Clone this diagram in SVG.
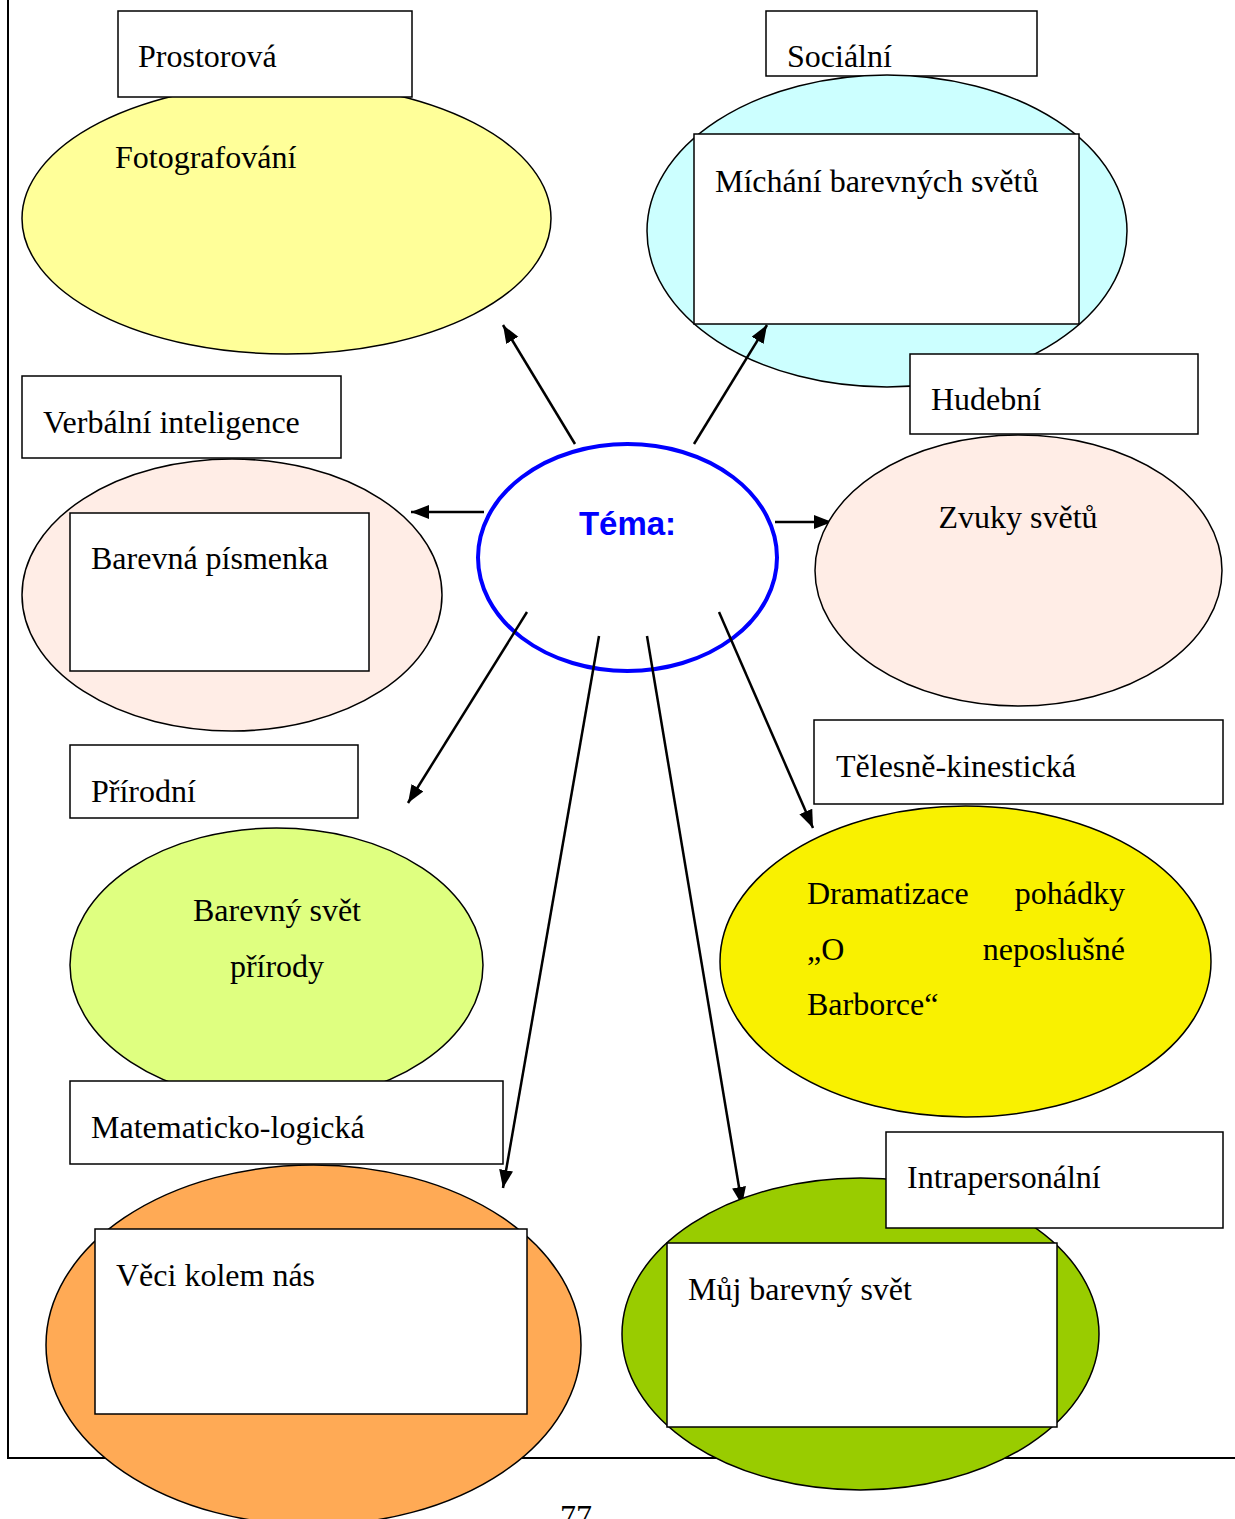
<svg xmlns="http://www.w3.org/2000/svg" width="1235" height="1519" viewBox="0 0 1235 1519">
<defs>
<style>
.box{fill:#fff;stroke:#000;stroke-width:1.5}
.ell{stroke:#000;stroke-width:1.5}
.t{font-family:"Liberation Serif","Times New Roman",serif;font-size:32px;fill:#000}
.c{stroke:#000;stroke-width:2.5;fill:none;marker-end:url(#ah)}
</style>
<marker id="ah" markerUnits="userSpaceOnUse" markerWidth="20" markerHeight="16" refX="18" refY="7" orient="auto">
<path d="M0,0 L18,7 L0,14 Z" fill="#000"/>
</marker>
</defs>
<rect width="1235" height="1519" fill="#fff"/>
<g id="frame">
<path d="M8,0 V1458 H1235" fill="none" stroke="#000" stroke-width="2"/>
</g>
<g id="prostorova">
<ellipse class="ell" cx="286.5" cy="218.5" rx="264.5" ry="135.5" fill="#FFFF99"/>
<rect class="box" x="118" y="11" width="294" height="86"/>
<text class="t" x="138" y="67">Prostorová</text>
<text class="t" x="115" y="168">Fotografování</text>
</g>
<g id="socialni">
<rect class="box" x="766" y="11" width="271" height="65"/>
<text class="t" x="787" y="67">Sociální</text>
<ellipse class="ell" cx="887" cy="231" rx="240" ry="156" fill="#CCFFFF"/>
<rect class="box" x="694" y="134" width="385" height="190"/>
<text class="t" x="715" y="192">Míchání barevných světů</text>
</g>
<g id="verbalni">
<rect class="box" x="22" y="376" width="319" height="82"/>
<text class="t" x="43" y="433">Verbální inteligence</text>
<ellipse class="ell" cx="232" cy="595" rx="210" ry="136" fill="#FFEDE6"/>
<rect class="box" x="70" y="513" width="299" height="158"/>
<text class="t" x="91" y="569">Barevná písmenka</text>
</g>
<g id="tema">
<ellipse cx="627.5" cy="557.5" rx="149.5" ry="113.5" fill="#fff" stroke="#0000FF" stroke-width="4"/>
<text x="627.5" y="535" text-anchor="middle" font-family="'Liberation Sans',Arial,sans-serif" font-weight="bold" font-size="33" fill="#0000FF">Téma:</text>
</g>
<g id="prirodni">
<rect class="box" x="70" y="745" width="288" height="73"/>
<text class="t" x="91" y="802">Přírodní</text>
<ellipse class="ell" cx="276.5" cy="965" rx="206.5" ry="137" fill="#DFFF80"/>
<text class="t" x="277" y="921" text-anchor="middle">Barevný svět</text>
<text class="t" x="277" y="977" text-anchor="middle">přírody</text>
</g>
<g id="telesne">
<rect class="box" x="814" y="720" width="409" height="84"/>
<text class="t" x="836" y="777">Tělesně-kinestická</text>
<ellipse class="ell" cx="965.5" cy="961.5" rx="245.5" ry="155.5" fill="#F9F100"/>
<text class="t" x="807" y="904">Dramatizace</text>
<text class="t" x="1125" y="904" text-anchor="end">pohádky</text>
<text class="t" x="807" y="960">„O</text>
<text class="t" x="1125" y="960" text-anchor="end">neposlušné</text>
<text class="t" x="807" y="1015">Barborce“</text>
</g>
<g id="matematicko">
<rect class="box" x="70" y="1081" width="433" height="83"/>
<text class="t" x="91" y="1138">Matematicko-logická</text>
<ellipse class="ell" cx="313.5" cy="1345" rx="267.5" ry="180" fill="#FFAA55"/>
<rect class="box" x="95" y="1229" width="432" height="185"/>
<text class="t" x="116" y="1286">Věci kolem nás</text>
</g>
<g id="connectors">
<line class="c" x1="575" y1="444" x2="503" y2="325"/>
<line class="c" x1="694" y1="444" x2="767" y2="325"/>
<line class="c" x1="484" y1="512" x2="411" y2="512"/>
<line class="c" x1="775" y1="522" x2="832" y2="522"/>
<line class="c" x1="527" y1="612" x2="408" y2="803"/>
<line class="c" x1="599" y1="636" x2="503" y2="1188"/>
<line class="c" x1="647" y1="636" x2="742" y2="1205"/>
<line class="c" x1="719" y1="612" x2="813" y2="828"/>
</g>
<g id="hudebni">
<rect class="box" x="910" y="354" width="288" height="80"/>
<text class="t" x="931" y="410">Hudební</text>
<ellipse class="ell" cx="1018.5" cy="570.5" rx="203.5" ry="135.5" fill="#FFEDE6"/>
<text class="t" x="1018" y="528" text-anchor="middle">Zvuky světů</text>
</g>
<g id="intrapersonalni">
<ellipse class="ell" cx="860.5" cy="1334" rx="238.5" ry="156" fill="#99CC00"/>
<rect class="box" x="886" y="1132" width="337" height="96"/>
<text class="t" x="907" y="1188">Intrapersonální</text>
<rect class="box" x="667" y="1243" width="390" height="184"/>
<text class="t" x="688" y="1300">Můj barevný svět</text>
</g>
<text class="t" x="560" y="1527">77</text>
</svg>
